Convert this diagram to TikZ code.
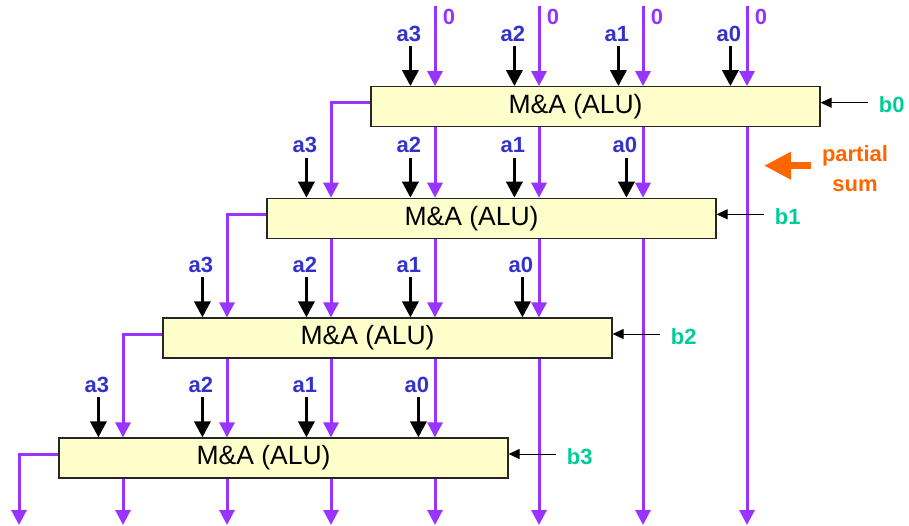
\documentclass[tikz,border=0pt]{standalone}
\usepackage{fontspec}
\setmainfont{Liberation Sans}
\usetikzlibrary{calc,arrows.meta}

\definecolor{sumpurple}{HTML}{9933FF}
\definecolor{abitblue}{HTML}{3333CC}
\definecolor{bbitgreen}{HTML}{00CC99}
\definecolor{psorange}{HTML}{FF6600}
\definecolor{alufill}{HTML}{FFFFCC}

\begin{document}
\begin{tikzpicture}[
    x=1pt,
    y=-1pt,
    alu/.style={draw=black!85, line width=1.2pt, fill=alufill,
        minimum width=449pt, minimum height=40pt, inner sep=0pt},
    alutext/.style={font=\fontsize{26.5}{30}\selectfont},
    sumline/.style={draw=sumpurple, line width=3pt,
        -{Triangle[length=15pt, width=15pt]}},
    abitline/.style={draw=black, line width=3.5pt,
        -{Triangle[length=16pt, width=16pt]}},
    bbitline/.style={draw=black, line width=1pt,
        -{Triangle[length=11pt, width=10pt]}},
    abit/.style={text=abitblue, inner sep=0pt,
        font=\fontsize{22}{26}\selectfont\bfseries},
    zerobit/.style={abit, text=sumpurple},
    bbit/.style={abit, text=bbitgreen},
    pslabel/.style={abit, text=psorange, align=center,
        font=\fontsize{22}{30}\selectfont\bfseries},
    psarrow/.style={draw=psorange, line width=7pt,
        -{Triangle[length=27pt, width=26pt]}}
]

\useasboundingbox (0,0) rectangle (909,526);

% -------------------------------------------------------------------------
% Limits
% -------------------------------------------------------------------------
\def\colzero{19}
\def\colstep{104}
\def\ytop{6}
\def\ybot{525}

% -------------------------------------------------------------------------
% M&A rows
% -------------------------------------------------------------------------
\foreach \i/\top in {0/86.7, 1/198.3, 2/318, 3/438}{
    \pgfmathsetmacro\boxleft{371-104*\i}
    \node[ alu ] (alu\i) at (\boxleft+224.5, \top+20) {};
    \node[ alutext ] (alutext\i) at ([xshift=-20pt]alu\i.center) {M\&A (ALU)};
}

% -------------------------------------------------------------------------
% Column end points
% -------------------------------------------------------------------------
\foreach \k in {0,...,7}{
    \coordinate (zin-\k) at (\colzero+\colstep*\k, \ytop);
    \coordinate (out-\k) at (\colzero+\colstep*\k, \ybot);
}

% -------------------------------------------------------------------------
% Zero inputs of the first row
% -------------------------------------------------------------------------
\foreach \k in {4,...,7}{
    \draw[ sumline ] (zin-\k) -- (zin-\k |- alu0.north);
    \node[ zerobit, anchor=base ] (zero-\k) at ([xshift=14pt]zin-\k |- 0,25) {0};
}

% -------------------------------------------------------------------------
% Partial sums between rows
% -------------------------------------------------------------------------
\foreach \i/\j in {0/1, 1/2, 2/3}{
    \pgfmathtruncatemacro\kwrap{3-\i}
    \pgfmathtruncatemacro\kfirst{4-\i}
    \pgfmathtruncatemacro\klast{6-\i}
    \pgfmathtruncatemacro\kdone{7-\i}
    % carry round the left side
    \draw[ sumline ] ([yshift=4pt]alu\i.west) -| (out-\kwrap |- alu\j.north);
    % straight down to the next row
    \foreach \k in {\kfirst,...,\klast}{
        \draw[ sumline ] (alu\i.south -| out-\k) -- (alu\j.north -| out-\k);
    }
    % finished bit
    \draw[ sumline ] (alu\i.south -| out-\kdone) -- (out-\kdone);
}

% last row
\draw[ sumline ] ([yshift=4pt]alu3.west) -| (out-0);
\foreach \k in {1,...,4}{
    \draw[ sumline ] (alu3.south -| out-\k) -- (out-\k);
}

% -------------------------------------------------------------------------
% a inputs
% -------------------------------------------------------------------------
\foreach \i in {0,...,3}{
    \foreach \j/\off in {3/40, 2/144, 1/248, 0/360}{
        \coordinate (ain-\i-\j) at ([xshift=\off pt, yshift=40pt]alu\i.north west);
        \draw[ abitline ] (ain-\i-\j) -- (ain-\i-\j |- alu\i.north);
        \node[ abit, anchor=base ] (alab-\i-\j) at ([xshift=-1.5pt, yshift=5pt]ain-\i-\j) {a\j};
    }
}

% -------------------------------------------------------------------------
% b inputs
% -------------------------------------------------------------------------
\foreach \i in {0,...,3}{
    \coordinate (bin-\i) at ([xshift=47pt, yshift=4pt]alu\i.east);
    \draw[ bbitline ] (bin-\i) -- (bin-\i -| alu\i.east);
    \node[ bbit, anchor=base west ] (blab-\i) at ([xshift=58pt, yshift=-6pt]alu\i.east) {b\i};
}

% -------------------------------------------------------------------------
% Partial sum marker
% -------------------------------------------------------------------------
\node[ pslabel ] (psum) at (855,169) {partial\\sum};
\coordinate (psum-tip) at (764,165.7);
\draw[ psarrow ] (psum-tip -| 811,0) -- (psum-tip);

\end{tikzpicture}
\end{document}
